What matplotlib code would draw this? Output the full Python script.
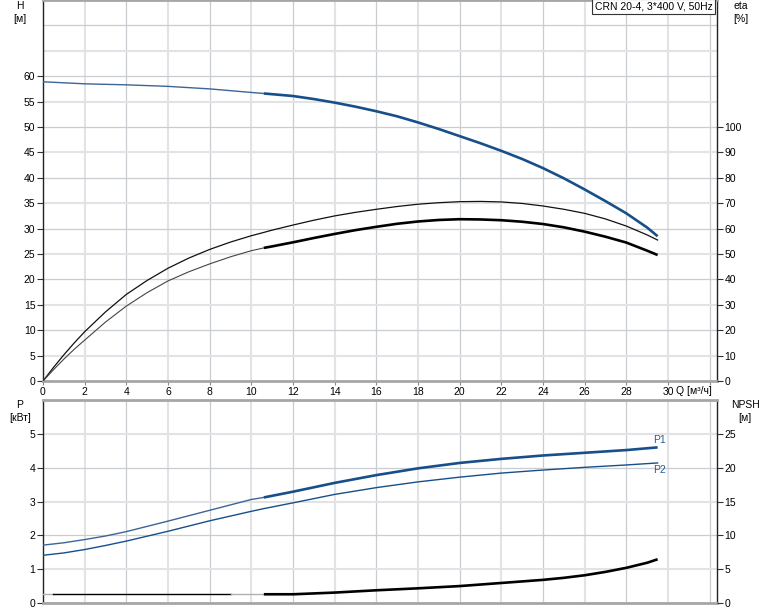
import matplotlib
matplotlib.use('Agg')
import matplotlib.pyplot as plt
import numpy as np

plt.rcParams['font.family'] = ['Liberation Sans', 'DejaVu Sans']
plt.rcParams['font.size'] = 7.5

# ---------------- data ----------------
q_h = [0, 2, 4, 6, 8, 10, 10.6, 12, 13, 14, 15, 16, 17, 18, 19, 20, 21, 22, 23, 24, 25, 26, 27, 28, 29, 29.5]
head = [58.9, 58.5, 58.3, 58.0, 57.5, 56.8, 56.6, 56.1, 55.5, 54.8, 54.0, 53.1, 52.1, 50.9, 49.6, 48.2,
        46.8, 45.3, 43.7, 41.9, 39.9, 37.7, 35.4, 33.0, 30.2, 28.5]

q_eta = [0, 0.5, 1, 1.5, 2, 3, 4, 5, 6, 7, 8, 9, 10, 10.6, 11, 12, 13, 14, 15, 16, 17, 18, 19, 20,
         21, 22, 23, 24, 25, 26, 27, 28, 29, 29.5]
eta_pump = [0, 5.3, 10.3, 15.0, 19.4, 27.2, 34.1, 39.6, 44.4, 48.4, 51.8, 54.7, 57.2, 58.5, 59.4, 61.4,
            63.3, 65.0, 66.4, 67.6, 68.7, 69.6, 70.2, 70.6, 70.7, 70.5, 69.9, 68.9, 67.6, 66.0, 63.8,
            61.0, 57.5, 55.5]
eta_total = [0, 4.4, 8.6, 12.5, 16.1, 23.2, 29.5, 34.8, 39.4, 43.0, 46.1, 48.9, 51.3, 52.4, 53.0, 54.6,
             56.3, 57.9, 59.4, 60.7, 61.9, 62.8, 63.4, 63.7, 63.6, 63.3, 62.7, 61.8, 60.5, 58.8, 56.8,
             54.5, 51.3, 49.6]

q_p = [0, 1, 2, 3, 4, 6, 8, 10, 10.6, 12, 14, 16, 18, 20, 22, 24, 26, 28, 29.5]
p1 = [1.71, 1.78, 1.875, 1.98, 2.11, 2.42, 2.74, 3.06, 3.12, 3.29, 3.55, 3.78, 3.98, 4.14, 4.26, 4.36,
      4.44, 4.52, 4.60]
p2 = [1.41, 1.48, 1.58, 1.70, 1.83, 2.12, 2.43, 2.71, 2.79, 2.96, 3.21, 3.41, 3.58, 3.72, 3.84, 3.93,
      4.01, 4.08, 4.14]

q_npsh = [0, 0.5, 9.0, 10.6, 12, 14, 16, 18, 20, 22, 24, 25, 26, 27, 28, 29, 29.5]
npsh = [1.29, 1.29, 1.29, 1.29, 1.29, 1.54, 1.88, 2.17, 2.5, 2.96, 3.42, 3.72, 4.1, 4.6, 5.2, 5.95, 6.46]

q_ticks = list(range(0, 31, 2))
h_ticks = list(range(0, 61, 5))
eta_ticks = list(range(0, 101, 10))
p_ticks = [0, 1, 2, 3, 4, 5]
npsh_ticks = [0, 5, 10, 15, 20, 25]

title_text = "CRN 20-4, 3*400 V, 50Hz"
Q_SPLIT = 10.6

BLUE = '#174f8a'
BLUE_THIN = '#3d6496'
GRID_D = '#c9ccd0'
GRID_L = '#e2e3e5'


def seg(x, y, lo, hi):
    x = np.asarray(x, float)
    y = np.asarray(y, float)
    m = (x >= lo - 1e-9) & (x <= hi + 1e-9)
    return x[m], y[m]


W, H = 774, 611
fig = plt.figure(figsize=(W / 100, H / 100), dpi=100)

L, R = 43, 717
ax1 = fig.add_axes([L / W, 1 - 381 / H, (R - L) / W, 381 / H])
ax2 = fig.add_axes([L / W, 1 - 603 / H, (R - L) / W, 203 / H])
XMAX = 32.35

for ax, ymax, step in ((ax1, 75, 5), (ax2, 6, 1)):
    ax.set_xlim(0, XMAX)
    ax.set_ylim(0, ymax)
    for xv in range(2, 33, 2):
        if xv % 4 == 0:
            ax.axvline(xv, color=GRID_D, lw=0.9, zorder=0)
        else:
            ax.axvline(xv, color=GRID_L, lw=1.5, zorder=0)
    yv = step
    k = 1
    while yv < ymax - 1e-9:
        if k % 2 == 0:
            ax.axhline(yv, color=GRID_D, lw=0.9, zorder=0)
        else:
            ax.axhline(yv, color=GRID_L, lw=1.5, zorder=0)
        yv += step
        k += 1
    ax.spines['left'].set_color('#222222')
    ax.spines['left'].set_linewidth(1.0)
    ax.spines['right'].set_color('#222222')
    ax.spines['right'].set_linewidth(1.0)
    for s in ('top', 'bottom'):
        ax.spines[s].set_color('#a6a6a6')
        ax.spines[s].set_linewidth(2.0)
    ax.tick_params(axis='y', direction='out', length=4, width=0.8, pad=1.5,
                   color='#333333', labelsize=7.5)

# ---- top chart ----
ax1.set_yticks(h_ticks)
ax1.set_xticks(q_ticks + [32])
ax1.set_xticklabels([str(v) for v in q_ticks] + [''])
ax1.tick_params(axis='x', direction='out', length=3, width=0.8, pad=1.5,
                color='#888888', labelsize=7.5)

xa, ya = seg(q_h, head, 0, Q_SPLIT)
ax1.plot(xa, ya, color=BLUE_THIN, lw=1.0, zorder=3)
xa, ya = seg(q_h, head, Q_SPLIT, 40)
ax1.plot(xa, ya, color=BLUE, lw=1.9, zorder=3, solid_capstyle='butt', solid_joinstyle='round')

ax1e = ax1.twinx()
ax1e.set_ylim(0, 150)
ax1e.set_yticks(eta_ticks)
ax1e.tick_params(axis='y', direction='out', length=4, width=0.8, pad=1.5,
                 color='#333333', labelsize=7.5)
for s in ax1e.spines.values():
    s.set_visible(False)
ax1e.plot(q_eta, eta_pump, color='#111111', lw=0.9, zorder=3, solid_joinstyle='round')
xa, ya = seg(q_eta, eta_total, 0, Q_SPLIT)
ax1e.plot(xa, ya, color='#444444', lw=0.8, zorder=3)
xa, ya = seg(q_eta, eta_total, Q_SPLIT, 40)
ax1e.plot(xa, ya, color='#000000', lw=1.9, zorder=3, solid_capstyle='butt', solid_joinstyle='round')

ax1.text(0.9935, 0.997, title_text, transform=ax1.transAxes, ha='right', va='top',
         fontsize=7.5, zorder=10,
         bbox=dict(boxstyle='square,pad=0.25', fc='white', ec='#333333', lw=0.8))

# ---- bottom chart ----
ax2.set_yticks(p_ticks)
ax2.set_xticks([])
xa, ya = seg(q_p, p1, 0, Q_SPLIT)
ax2.plot(xa, ya, color=BLUE_THIN, lw=1.0, zorder=3)
xa, ya = seg(q_p, p1, Q_SPLIT, 40)
ax2.plot(xa, ya, color=BLUE, lw=1.9, zorder=3, solid_capstyle='butt', solid_joinstyle='round')
ax2.plot(q_p, p2, color=BLUE, lw=1.0, zorder=3)
ax2.text(q_p[-1] - 0.2, p1[-1] + 0.08, 'P1', color='#2a5d9a', fontsize=7.5,
         ha='left', va='bottom')
ax2.text(q_p[-1] - 0.2, p2[-1] - 0.07, 'P2', color='#2a5d9a', fontsize=7.5,
         ha='left', va='top')

ax2n = ax2.twinx()
ax2n.set_ylim(0, 30)
ax2n.set_yticks(npsh_ticks)
ax2n.tick_params(axis='y', direction='out', length=4, width=0.8, pad=1.5,
                 color='#333333', labelsize=7.5)
for s in ax2n.spines.values():
    s.set_visible(False)
xa, ya = seg(q_npsh, npsh, 0, 0.5)
ax2n.plot(xa, ya, color='#b0b0b0', lw=1.0, zorder=3)
xa, ya = seg(q_npsh, npsh, 0.5, 9.0)
ax2n.plot(xa, ya, color='#000000', lw=1.0, zorder=3)
xa, ya = seg(q_npsh, npsh, 9.0, Q_SPLIT)
ax2n.plot(xa, ya, color='#b0b0b0', lw=1.0, zorder=3)
xa, ya = seg(q_npsh, npsh, Q_SPLIT, 40)
ax2n.plot(xa, ya, color='#000000', lw=1.9, zorder=3, solid_capstyle='butt', solid_joinstyle='round')

# ---- axis titles ----
def ftext(x, y, s, **kw):
    fig.text(x / W, 1 - y / H, s, ha='center', va='center', fontsize=7.5, **kw)

ftext(20, 6, 'H')
ftext(20, 19, '[м]')
ftext(741, 6, 'eta')
ftext(741, 19, '[%]')
ftext(20, 405, 'P')
ftext(20, 418, '[кВт]')
ftext(745, 405, 'NPSH')
ftext(745, 418, '[м]')
ftext(694, 391, 'Q [м³/ч]')

fig.savefig('out.png', dpi=100)
